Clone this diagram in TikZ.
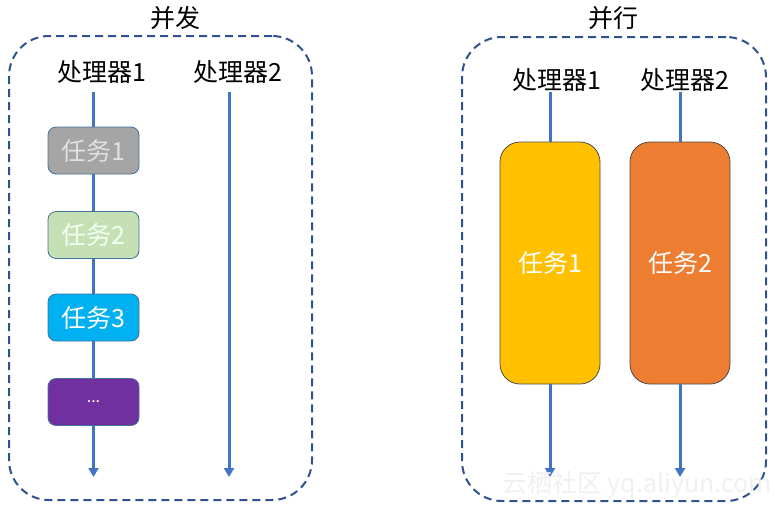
\documentclass[tikz,border=0pt]{standalone}
\usepackage{fontspec}
\setmainfont{Noto Sans CJK SC}
\usetikzlibrary{arrows.meta}
\definecolor{lineblue}{HTML}{4472C4}
\definecolor{dashblue}{HTML}{2F528F}
\definecolor{edgeblue}{HTML}{41719C}
\definecolor{tgray}{HTML}{A5A5A5}
\definecolor{tgreen}{HTML}{C5E0B4}
\definecolor{tcyan}{HTML}{00B0F0}
\definecolor{tpurple}{HTML}{7030A0}
\definecolor{tyellow}{HTML}{FFC000}
\definecolor{torange}{HTML}{ED7D31}
\begin{document}
\begin{tikzpicture}[x=1pt,y=-1pt,
  grp/.style={draw=dashblue, line width=2, dash pattern=on 8pt off 5pt, rounded corners=40, inner sep=0},
  ttl/.style={font=\fontsize{25}{28}\selectfont, text=black, inner sep=0},
  lbl/.style={font=\fontsize{25}{28}\selectfont, text=black, inner sep=0},
  task/.style={draw=edgeblue, line width=0.8, rounded corners=8, minimum width=91, minimum height=47, inner sep=0, font=\fontsize{25}{28}\selectfont, text=white},
  bigtask/.style={draw=black!70, line width=0.8, rounded corners=20, minimum width=100, minimum height=242, inner sep=0, font=\fontsize{25}{28}\selectfont, text=white},
  flow/.style={draw=lineblue, line width=3},
  flowarrow/.style={flow, -{Triangle[length=9pt,width=10pt]}}
]
\useasboundingbox (0,0) rectangle (775,507);

% groups
\node[grp, minimum width=303, minimum height=464] (gL) at (160.5,268) {};
\node[grp, minimum width=304, minimum height=464] (gR) at (614,269) {};

\node[ttl] (tL) at (175,18) {并发};
\node[ttl] (tR) at (613,18) {并行};

% left: concurrency
\node[lbl] (pL1) at (102,72) {处理器1};
\node[lbl] (pL2) at (238,72) {处理器2};
\coordinate (l1top) at (93.5,92);
\coordinate (l1end) at (93.5,477);
\coordinate (l2top) at (229,92);
\coordinate (l2end) at (229,477);

\node[task, fill=tgray, text=black!12] (t1) at (93.5,150.5) {任务1};
\node[task, fill=tgreen, text=white!95!green] (t2) at (93.5,235) {任务2};
\node[task, fill=tcyan] (t3) at (93.5,317.5) {任务3};
\node[task, fill=tpurple, font=\fontsize{16}{18}\selectfont] (t4) at (93.5,402) {...};

\draw[flow] (l1top) -- (t1.north);
\draw[flow] (t1.south) -- (t2.north);
\draw[flow] (t2.south) -- (t3.north);
\draw[flow] (t3.south) -- (t4.north);
\draw[flowarrow] (t4.south) -- (l1end);
\draw[flowarrow] (l2top) -- (l2end);

% right: parallelism
\node[lbl] (pR1) at (557,80) {处理器1};
\node[lbl] (pR2) at (685,80) {处理器2};
\coordinate (r1top) at (550,92);
\coordinate (r1end) at (550,477);
\coordinate (r2top) at (680,92);
\coordinate (r2end) at (680,477);

\node[bigtask, fill=tyellow] (b1) at (550,263) {任务1};
\node[bigtask, fill=torange] (b2) at (680,263) {任务2};

\draw[flow] (r1top) -- (b1.north);
\draw[flow] (r2top) -- (b2.north);
\draw[flowarrow] (b1.south) -- (r1end);
\draw[flowarrow] (b2.south) -- (r2end);

% watermark
\node[font=\fontsize{25}{28}\selectfont, text=black!6, inner sep=0] (wm) at (637,485) {云栖社区 yq.aliyun.com};
\end{tikzpicture}
\end{document}
